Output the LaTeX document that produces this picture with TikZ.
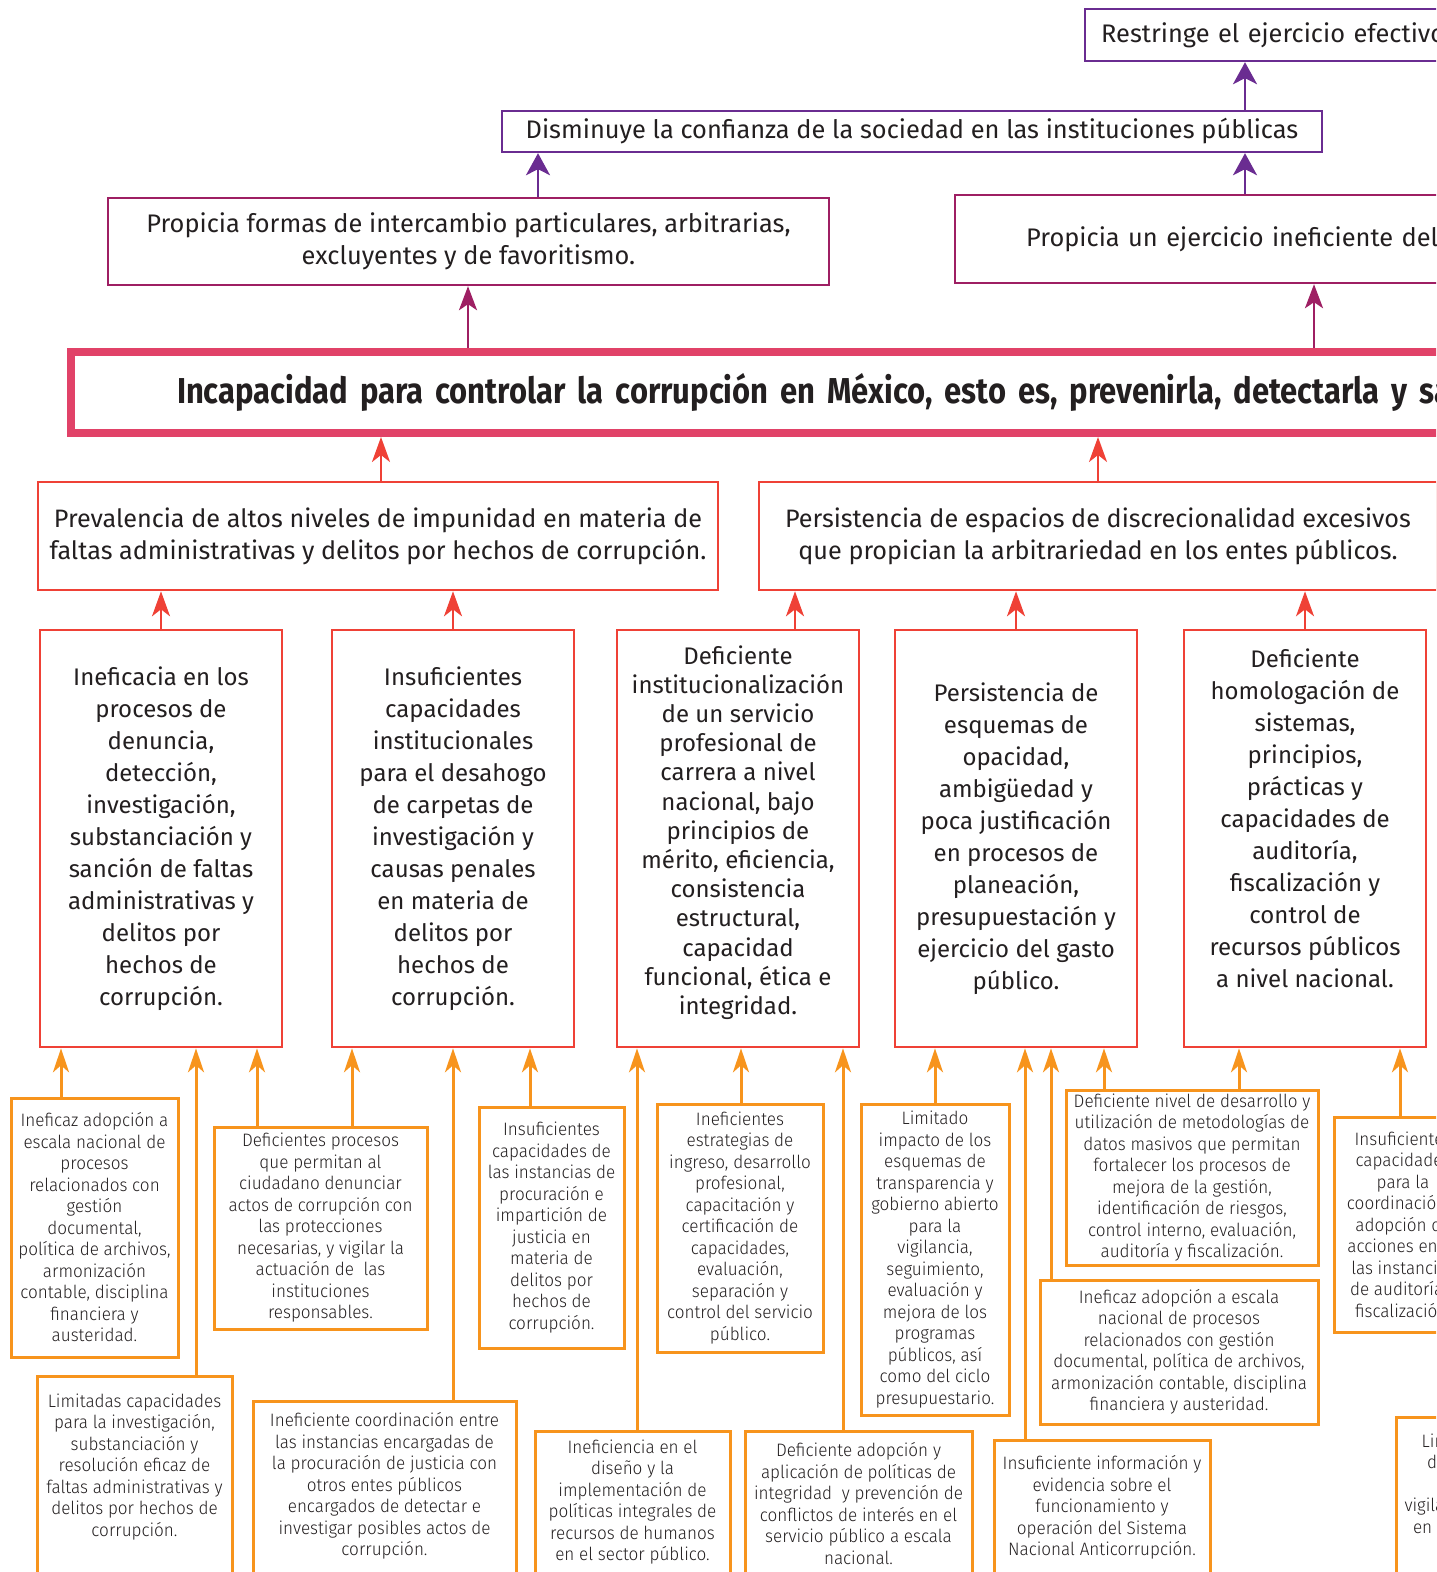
\documentclass[tikz,border=0pt]{standalone}
\usepackage{fontspec}
\setmainfont{Fira Sans}
\newfontfamily\titlefont[FakeStretch=0.86]{Fira Sans}
\newfontfamily\smallfont[FakeStretch=0.95]{Fira Sans Light}
\usetikzlibrary{arrows.meta}

\definecolor{morado}{RGB}{106,44,145}
\definecolor{vino}{RGB}{158,31,99}
\definecolor{rosa}{RGB}{225,66,104}
\definecolor{rojo}{RGB}{239,65,54}
\definecolor{naranja}{RGB}{247,148,29}
\definecolor{tinta}{RGB}{35,31,32}

\tikzset{
  efecto/.style={draw=morado, line width=1.2pt, inner sep=0pt, align=center,
    font=\fontsize{12.7}{16}\selectfont},
  consecuencia/.style={draw=vino, line width=1.2pt, inner sep=0pt, align=center,
    font=\fontsize{12.7}{16}\selectfont},
  central/.style={draw=rosa, line width=4pt, inner ysep=0pt, align=left,
    font=\titlefont\bfseries\fontsize{18}{22}\selectfont},
  causa/.style={draw=rojo, line width=1.3pt, inner sep=0pt, align=center},
  subcausa/.style={draw=naranja, line width=1.5pt, inner sep=0pt, align=center,
    font=\smallfont\fontsize{9}{10.75}\selectfont},
  flechamorada/.style={draw=morado, line width=1.2pt, -{Stealth[length=11pt, width=12pt, inset=3pt]}},
  flechavino/.style={draw=vino, line width=1.2pt, -{Stealth[length=12pt, width=9pt, inset=3pt]}},
  flecharoja/.style={draw=rojo, line width=1.2pt, -{Stealth[length=12.5pt, width=9pt, inset=3.5pt]}},
  flechanaranja/.style={draw=naranja, line width=1.5pt, -{Stealth[length=12pt, width=8pt, inset=3.5pt]}},
}

\begin{document}
\begin{tikzpicture}[x=0.5pt, y=-0.5pt, text=tinta, font=\fontsize{12}{16}\selectfont]
  \useasboundingbox (0,0) rectangle (1436,1572);
  \clip (0,0) rectangle (1436,1572);

  % efectos
  \node[efecto, anchor=west, text width=600pt, align=left, inner xsep=8pt, minimum height=26pt]
    (res) at (1084,35) {Restringe el ejercicio efectivo de los derechos};
  \node[efecto, minimum width=410pt, minimum height=20.5pt]
    (dis) at (912,131.5) {Disminuye la confianza de la sociedad en las instituciones públicas};
  \node[consecuencia, minimum width=360.5pt, minimum height=43.5pt]
    (pf) at (468.5,241.5) {Propicia formas de intercambio particulares, arbitrarias,\\excluyentes y de favoritismo.};
  \node[consecuencia, anchor=west, text width=500pt, align=left, inner xsep=35.5pt, minimum height=44pt]
    (pu) at (954,239) {Propicia un ejercicio ineficiente del gasto público.};

  % problema central
  \node[central, anchor=west, text width=1000pt, inner xsep=53pt, minimum height=40.5pt]
    (main) at (67,392.5) {Incapacidad para controlar la corrupción en México, esto es, prevenirla, detectarla y sancionarla eficazmente.};

  % causas
  \node[causa, minimum width=340pt, minimum height=54pt, font=\fontsize{12.6}{16}\selectfont]
    (prev) at (378,536) {Prevalencia de altos niveles de impunidad en materia de\\faltas administrativas y delitos por hechos de corrupción.};
  \node[causa, minimum width=339pt, minimum height=54pt, font=\fontsize{12.6}{16}\selectfont]
    (pers) at (1098,536) {Persistencia de espacios de discrecionalidad excesivos\\que propician la arbitrariedad en los entes públicos.};

  \node[causa, minimum width=121pt, minimum height=208.5pt] (c1) at (161,838.5)
    {Ineficacia en los\\procesos de\\denuncia,\\detección,\\investigación,\\substanciación y\\sanción de faltas\\administrativas y\\delitos por\\hechos de\\corrupción.};
  \node[causa, minimum width=121pt, minimum height=208.5pt] (c2) at (453,838.5)
    {Insuficientes\\capacidades\\institucionales\\para el desahogo\\de carpetas de\\investigación y\\causas penales\\en materia de\\delitos por\\hechos de\\corrupción.};
  \node[causa, minimum width=121pt, minimum height=208.5pt, font=\fontsize{12}{14.6}\selectfont] (c3) at (738,838.5)
    {Deficiente\\institucionalización\\de un servicio\\profesional de\\carrera a nivel\\nacional, bajo\\principios de\\mérito, eficiencia,\\consistencia\\estructural,\\capacidad\\funcional, ética e\\integridad.\\[-6pt] \rule{0pt}{0pt}};
  \node[causa, minimum width=121pt, minimum height=208.5pt] (c4) at (1016,838.5)
    {Persistencia de\\esquemas de\\opacidad,\\ambigüedad y\\poca justificación\\en procesos de\\planeación,\\presupuestación y\\ejercicio del gasto\\público.};
  \node[causa, minimum width=121pt, minimum height=208.5pt] (c5) at (1305,838.5)
    {Deficiente\\homologación de\\sistemas,\\principios,\\prácticas y\\capacidades de\\auditoría,\\fiscalización y\\control de\\recursos públicos\\a nivel nacional.\\[4pt] \rule{0pt}{0pt}};

  % subcausas
  \node[subcausa, minimum width=83.5pt, minimum height=129.5pt] (sa) at (94.5,1227.5)
    {Ineficaz adopción a\\escala nacional de\\procesos\\relacionados con\\gestión\\documental,\\política de archivos,\\armonización\\contable, disciplina\\financiera y\\austeridad.};
  \node[subcausa, anchor=north, minimum width=97.5pt, inner ysep=8.5pt] (sb) at (134.5,1375)
    {Limitadas capacidades\\para la investigación,\\substanciación y\\resolución eficaz de\\faltas administrativas y\\delitos por hechos de\\corrupción.\\ \rule{0pt}{40pt}};
  \node[subcausa, minimum width=106.5pt, minimum height=101pt] (sc) at (320.5,1228)
    {Deficientes procesos\\que permitan al\\ciudadano denunciar\\actos de corrupción con\\las protecciones\\necesarias, y vigilar la\\actuación de \ las\\instituciones\\responsables.};
  \node[subcausa, anchor=north, minimum width=131.5pt, inner ysep=5.5pt] (sd) at (384.5,1400)
    {Ineficiente coordinación entre\\las instancias encargadas de\\la procuración de justicia con\\otros entes públicos\\encargados de detectar e\\investigar posibles actos de\\corrupción.\\ \rule{0pt}{40pt}};
  \node[subcausa, minimum width=72.5pt, minimum height=120.5pt] (se) at (551.5,1227.5)
    {Insuficientes\\capacidades de\\las instancias de\\procuración e\\impartición de\\justicia en\\materia de\\delitos por\\hechos de\\corrupción.};
  \node[subcausa, anchor=north, minimum width=97.5pt, inner ysep=4pt] (sf) at (632.5,1430)
    {Ineficiencia en el\\diseño y la\\implementación de\\políticas integrales de\\recursos de humanos\\en el sector público.\\ \rule{0pt}{40pt}};
  \node[subcausa, minimum width=83pt, minimum height=124pt] (sg) at (740,1228)
    {Ineficientes\\estrategias de\\ingreso, desarrollo\\profesional,\\capacitación y\\certificación de\\capacidades,\\evaluación,\\separación y\\control del servicio\\público.};
  \node[subcausa, anchor=north, minimum width=113.5pt, inner ysep=5.5pt] (sh) at (858.5,1430)
    {Deficiente adopción y\\aplicación de políticas de\\integridad \ y prevención de\\conflictos de interés en el\\servicio público a escala\\nacional.\\ \rule{0pt}{40pt}};
  \node[subcausa, minimum width=74pt, minimum height=155.5pt] (si) at (935,1259.5)
    {Limitado\\impacto de los\\esquemas de\\transparencia y\\gobierno abierto\\para la\\vigilancia,\\seguimiento,\\evaluación y\\mejora de los\\programas\\públicos, así\\como del ciclo\\presupuestario.};
  \node[subcausa, anchor=north, minimum width=108pt, inner ysep=7.5pt] (sj) at (1102,1439)
    {Insuficiente información y\\evidencia sobre el\\funcionamiento y\\operación del Sistema\\Nacional Anticorrupción.\\ \rule{0pt}{40pt}};
  \node[subcausa, minimum width=139pt, minimum height=72pt] (sk) at (1179,1352)
    {Ineficaz adopción a escala\\nacional de procesos\\relacionados con gestión\\documental, política de archivos,\\armonización contable, disciplina\\financiera y austeridad.};
  \node[subcausa, minimum width=126pt, minimum height=87.5pt] (sl) at (1192,1177.5)
    {Deficiente nivel de desarrollo y\\utilización de metodologías de\\datos masivos que permitan\\fortalecer los procesos de\\mejora de la gestión,\\identificación de riesgos,\\control interno, evaluación,\\auditoría y fiscalización.};
  \node[subcausa, minimum width=69pt, minimum height=107.5pt] (sm) at (1403,1224.5)
    {Insuficientes\\capacidades\\para la\\coordinación y\\adopción de\\acciones entre\\las instancias\\de auditoría y\\fiscalización.};
  \node[subcausa, anchor=north, minimum width=100pt, inner ysep=8pt] (sn) at (1496,1416)
    {Limitada capacidad\\de control interno\\para la\\vigilancia y seguimiento\\en los entes públicos.\\ \rule{0pt}{40pt}};

  % flechas de efectos
  \draw[flechamorada] (dis.north -| 1245,0) -- (res.south -| 1245,0);
  \draw[flechamorada] (pf.north -| 538,0) -- (dis.south -| 538,0);
  \draw[flechamorada] (pu.north -| 1245,0) -- (dis.south -| 1245,0);
  \draw[flechavino] (main.north -| 468,0) -- (pf.south -| 468,0);
  \draw[flechavino] (main.north -| 1314,0) -- (pu.south -| 1314,0);

  % flechas de causas
  \draw[flecharoja] (prev.north -| 381,0) -- (main.south -| 381,0);
  \draw[flecharoja] (pers.north) -- (main.south -| pers.north);
  \draw[flecharoja] (c1.north) -- (prev.south -| c1.north);
  \draw[flecharoja] (c2.north) -- (prev.south -| c2.north);
  \draw[flecharoja] (c3.north -| 795,0) -- (pers.south -| 795,0);
  \draw[flecharoja] (c4.north) -- (pers.south -| c4.north);
  \draw[flecharoja] (c5.north) -- (pers.south -| c5.north);

  % flechas de subcausas
  \draw[flechanaranja] (sa.north -| 61,0) -- (c1.south -| 61,0);
  \draw[flechanaranja] (sb.north -| 196,0) -- (c1.south -| 196,0);
  \draw[flechanaranja] (sc.north -| 257,0) -- (c1.south -| 257,0);
  \draw[flechanaranja] (sc.north -| 352,0) -- (c2.south -| 352,0);
  \draw[flechanaranja] (sd.north -| 453,0) -- (c2.south -| 453,0);
  \draw[flechanaranja] (se.north -| 530,0) -- (c2.south -| 530,0);
  \draw[flechanaranja] (sf.north -| 637,0) -- (c3.south -| 637,0);
  \draw[flechanaranja] (sg.north -| 741,0) -- (c3.south -| 741,0);
  \draw[flechanaranja] (sh.north -| 843,0) -- (c3.south -| 843,0);
  \draw[flechanaranja] (si.north) -- (c4.south -| si.north);
  \draw[flechanaranja] (sj.north -| 1025,0) -- (c4.south -| 1025,0);
  \draw[flechanaranja] (sk.north -| 1051,0) -- (c4.south -| 1051,0);
  \draw[flechanaranja] (sl.north -| 1104,0) -- (c4.south -| 1104,0);
  \draw[flechanaranja] (sl.north -| 1239,0) -- (c5.south -| 1239,0);
  \draw[flechanaranja] (sm.north -| 1400,0) -- (c5.south -| 1400,0);
\end{tikzpicture}
\end{document}
